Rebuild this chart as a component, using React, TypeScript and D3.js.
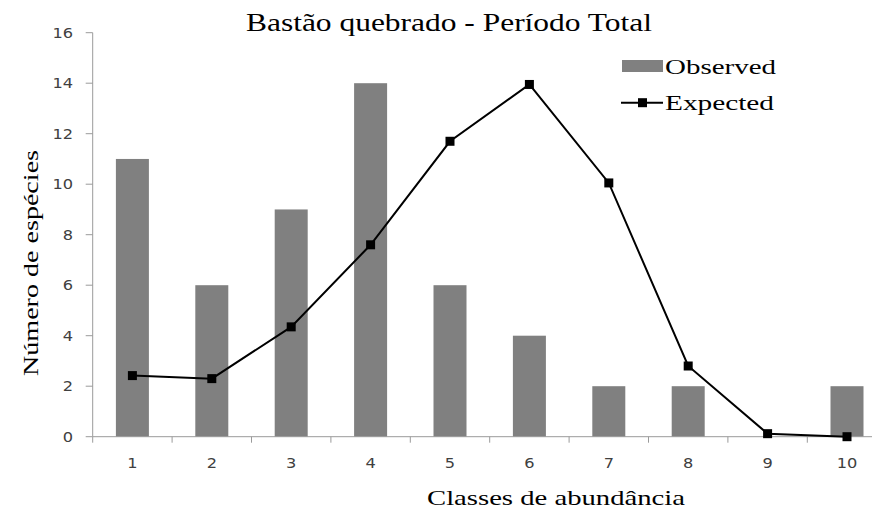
import React from "react";
import * as d3 from "d3";

const categories = ["1", "2", "3", "4", "5", "6", "7", "8", "9", "10"];
const observed = [11, 6, 9, 14, 6, 4, 2, 2, 0, 2];
const expected = [2.42, 2.3, 4.35, 7.6, 11.7, 13.95, 10.05, 2.8, 0.12, 0.0];
const yTicks = [0, 2, 4, 6, 8, 10, 12, 14, 16];

const W = 872;
const H = 510;
const left = 92.7;
const right = 886.7;
const top = 32.7;
const bottom = 436.7;

export default function App() {
  const x = d3.scaleBand<string>().domain(categories).range([left, right]).padding(0);
  const y = d3.scaleLinear().domain([0, 16]).range([bottom, top]);
  const bw = 33;
  const line = d3
    .line<number>()
    .x((_, i) => (x(categories[i]) as number) + x.bandwidth() / 2)
    .y((d) => y(d));
  const axisColor = "#9a9a9a";
  const tickText = "#404040";
  const sans = "'DejaVu Sans', Verdana, sans-serif";
  const serif = "'Liberation Serif', 'Times New Roman', serif";
  const xTickPos = categories.map((c) => x(c) as number).concat([right]);

  return (
    <svg width={W} height={H} style={{ position: "absolute", left: 0, top: 0, background: "#fff" }}>
      <rect x={0} y={0} width={W} height={H} fill="#fff" />
      {/* title */}
      <text x={449} y={31} fontFamily={serif} fontSize={26} textAnchor="middle" fill="#000"
        textLength={406} lengthAdjust="spacingAndGlyphs">
        Bastão quebrado - Período Total
      </text>
      {/* bars */}
      {observed.map((v, i) => {
        const cx = (x(categories[i]) as number) + x.bandwidth() / 2;
        return (
          <rect key={i} x={cx - bw / 2} y={y(v)} width={bw} height={y(0) - y(v)} fill="#808080" />
        );
      })}
      {/* axes */}
      <line x1={left} x2={left} y1={top} y2={bottom} stroke={axisColor} strokeWidth={1} />
      <line x1={left} x2={right} y1={bottom} y2={bottom} stroke={axisColor} strokeWidth={1} />
      {yTicks.map((t) => (
        <g key={t}>
          <line x1={left - 7} x2={left} y1={y(t)} y2={y(t)} stroke={axisColor} strokeWidth={1} />
          <text transform={`translate(73,${y(t) + 5}) scale(1.2,1)`} textAnchor="end"
            fontFamily={sans} fontSize={13.5} fill={tickText}>
            {t}
          </text>
        </g>
      ))}
      {xTickPos.map((p, i) => (
        <line key={i} x1={p} x2={p} y1={bottom} y2={bottom + 6} stroke={axisColor} strokeWidth={1} />
      ))}
      {categories.map((c) => (
        <text key={c}
          transform={`translate(${(x(c) as number) + x.bandwidth() / 2},468) scale(1.2,1)`}
          textAnchor="middle" fontFamily={sans} fontSize={13.5} fill={tickText}>
          {c}
        </text>
      ))}
      {/* expected line */}
      <path d={line(expected) || ""} fill="none" stroke="#000" strokeWidth={2} />
      {expected.map((v, i) => {
        const cx = (x(categories[i]) as number) + x.bandwidth() / 2;
        return <rect key={i} x={cx - 4.5} y={y(v) - 4.5} width={9} height={9} fill="#000" />;
      })}
      {/* axis titles */}
      <text x={556} y={505} textAnchor="middle" fontFamily={serif} fontSize={22} fill="#000"
        textLength={258} lengthAdjust="spacingAndGlyphs">
        Classes de abundância
      </text>
      <text transform={`translate(38,263) rotate(-90)`} textAnchor="middle" fontFamily={serif}
        fontSize={21} fill="#000" textLength={226} lengthAdjust="spacingAndGlyphs">
        Número de espécies
      </text>
      {/* legend */}
      <rect x={622} y={60} width={41} height={12} fill="#808080" />
      <text x={665} y={74} fontFamily={serif} fontSize={21} fill="#000" textLength={111}
        lengthAdjust="spacingAndGlyphs">
        Observed
      </text>
      <line x1={621} x2={663} y1={102.7} y2={102.7} stroke="#000" strokeWidth={2} />
      <rect x={638} y={98.2} width={9} height={9} fill="#000" />
      <text x={665} y={110} fontFamily={serif} fontSize={21} fill="#000" textLength={109}
        lengthAdjust="spacingAndGlyphs">
        Expected
      </text>
    </svg>
  );
}
